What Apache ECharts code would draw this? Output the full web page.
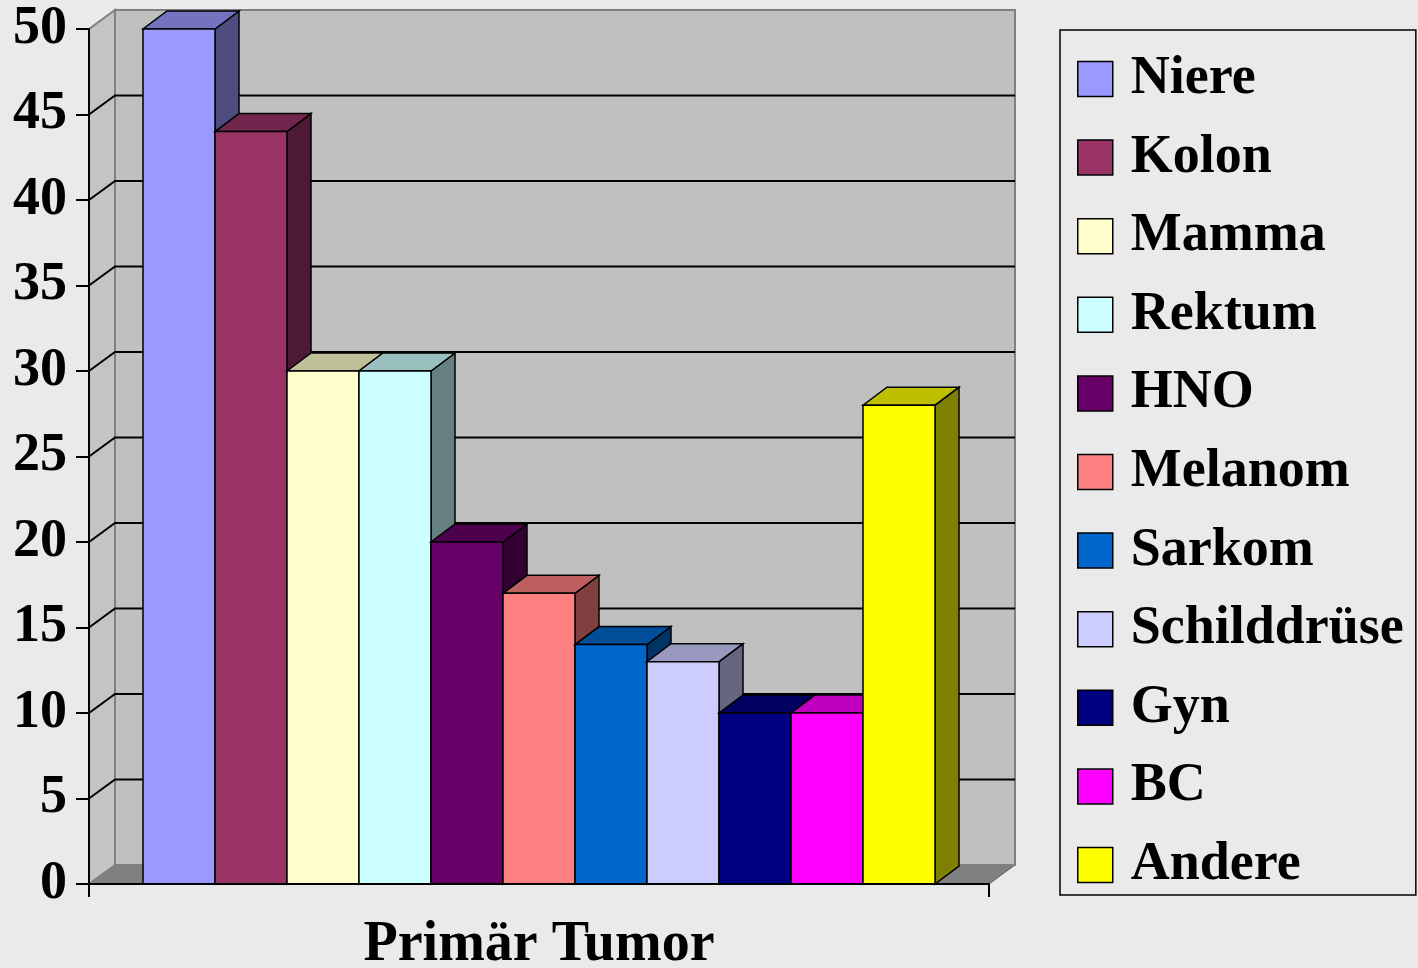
<!DOCTYPE html>
<html>
<head>
<meta charset="utf-8">
<script src="https://cdn.jsdelivr.net/npm/echarts@6/dist/echarts.min.js"></script>
<style>
html, body { margin: 0; padding: 0; background: #eaeaea; }
#main { width: 1418px; height: 968px; }
</style>
</head>
<body>
<div id="main"></div>
<script>
// data
var categories = ['Niere', 'Kolon', 'Mamma', 'Rektum', 'HNO', 'Melanom', 'Sarkom', 'Schilddrüse', 'Gyn', 'BC', 'Andere'];
var values = [50, 44, 30, 30, 20, 17, 14, 13, 10, 10, 28];
var colors = ['#9999FF', '#993366', '#FFFFCC', '#CCFFFF', '#660066', '#FF8080', '#0066CC', '#CCCCFF', '#000080', '#FF00FF', '#FFFF00'];
var xLabels = ['Primär Tumor'];
var gridValues = [5, 10, 15, 20, 25, 30, 35, 40, 45];
var yMax = 50;

var font = "'Liberation Serif', 'Times New Roman', serif";

// 3d depth offsets
var WALL_DX = 26, WALL_DY = -19;
var BAR_DX = 24, BAR_DY = -18;

function shade(hex, f) {
    var n = parseInt(hex.slice(1), 16);
    var r = Math.round(((n >> 16) & 255) * f);
    var g = Math.round(((n >> 8) & 255) * f);
    var b = Math.round((n & 255) * f);
    return 'rgb(' + r + ',' + g + ',' + b + ')';
}

var chartDom = document.getElementById('main');
var myChart = echarts.init(chartDom);

function renderWalls(params, api) {
    var band = api.size([1, 0])[0];
    var c0 = api.coord([0, 0]);
    var cTop = api.coord([0, yMax]);
    var x0 = c0[0] - band / 2, x1 = c0[0] + band / 2;
    var yb = c0[1], yt = cTop[1];
    var children = [];
    // floor
    children.push({
        type: 'polygon',
        shape: { points: [[x0, yb], [x0 + WALL_DX, yb + WALL_DY], [x1 + WALL_DX, yb + WALL_DY], [x1, yb]] },
        style: { fill: '#808080', stroke: '#606060', lineWidth: 1 }
    });
    // left wall
    children.push({
        type: 'polygon',
        shape: { points: [[x0, yb], [x0, yt], [x0 + WALL_DX, yt + WALL_DY], [x0 + WALL_DX, yb + WALL_DY]] },
        style: { fill: '#C4C4C4', stroke: '#808080', lineWidth: 2 }
    });
    // back wall
    children.push({
        type: 'rect',
        shape: { x: x0 + WALL_DX, y: yt + WALL_DY, width: x1 - x0, height: yb - yt },
        style: { fill: '#C0C0C0', stroke: '#808080', lineWidth: 2 }
    });
    gridValues.forEach(function (v) {
        var y = api.coord([0, v])[1];
        children.push({
            type: 'polyline',
            shape: { points: [[x0, y], [x0 + WALL_DX, y + WALL_DY], [x1 + WALL_DX, y + WALL_DY]] },
            style: { fill: null, stroke: '#000', lineWidth: 2 }
        });
    });
    return { type: 'group', children: children };
}

function renderBar(params, api) {
    var i = params.seriesIndex - 1;
    var band = api.size([1, 0])[0];
    var c0 = api.coord([0, 0]);
    var cv = api.coord([0, api.value(1)]);
    var barW = band * 0.88 / categories.length;
    var x = c0[0] - band / 2 + band * 0.06 + i * barW;
    var yb = c0[1], yt = cv[1];
    var col = colors[i];
    var line = { stroke: '#000', lineWidth: 1.5 };
    return {
        type: 'group',
        children: [{
            type: 'polygon',
            shape: { points: [[x + barW, yt], [x + barW + BAR_DX, yt + BAR_DY], [x + barW + BAR_DX, yb + BAR_DY], [x + barW, yb]] },
            style: Object.assign({ fill: shade(col, 0.5) }, line)
        }, {
            type: 'polygon',
            shape: { points: [[x, yt], [x + barW, yt], [x + barW + BAR_DX, yt + BAR_DY], [x + BAR_DX, yt + BAR_DY]] },
            style: Object.assign({ fill: shade(col, 0.75) }, line)
        }, {
            type: 'rect',
            shape: { x: x, y: yt, width: barW, height: yb - yt },
            style: Object.assign({ fill: col }, line)
        }]
    };
}

var series = [{
    type: 'custom',
    name: 'walls',
    renderItem: renderWalls,
    data: [[0, 0]],
    silent: true,
    z: 1
}];
categories.forEach(function (name, i) {
    series.push({
        type: 'custom',
        name: name,
        renderItem: renderBar,
        itemStyle: { color: colors[i], borderColor: '#000', borderWidth: 1 },
        data: [[0, values[i]]],
        z: 2
    });
});

var option = {
    backgroundColor: '#eaeaea',
    animation: false,
    grid: { left: 89, right: 429, top: 29, bottom: 84, outerBoundsMode: 'none', containLabel: false },
    legend: {
        orient: 'vertical',
        left: 1060,
        top: 30,
        data: categories,
        icon: 'rect',
        itemWidth: 35,
        itemHeight: 35,
        itemGap: 24.6,
        padding: [22, 12, 3, 17],
        borderColor: '#000',
        borderWidth: 1.5,
        selectedMode: false,
        itemStyle: { borderColor: '#000', borderWidth: 1.5 },
        textStyle: {
            fontFamily: font,
            fontWeight: 'bold',
            fontSize: 54,
            color: '#000',
            padding: [0, 0, 0, 13]
        }
    },
    xAxis: {
        type: 'category',
        data: xLabels,
        axisLine: { lineStyle: { color: '#000', width: 2 } },
        axisTick: { show: true, length: 13, lineStyle: { color: '#000', width: 2 } },
        axisLabel: { fontFamily: font, fontWeight: 'bold', fontSize: 56, color: '#000', margin: 34 },
        z: 5
    },
    yAxis: {
        type: 'value',
        min: 0,
        max: yMax,
        interval: 5,
        axisLine: { show: true, lineStyle: { color: '#000', width: 2 } },
        axisTick: { show: true, length: 13, lineStyle: { color: '#000', width: 2 } },
        axisLabel: { fontFamily: font, fontWeight: 'bold', fontSize: 54, color: '#000', margin: 22 },
        splitLine: { show: false },
        z: 5
    },
    series: series
};

option && myChart.setOption(option);
</script>
</body>
</html>
